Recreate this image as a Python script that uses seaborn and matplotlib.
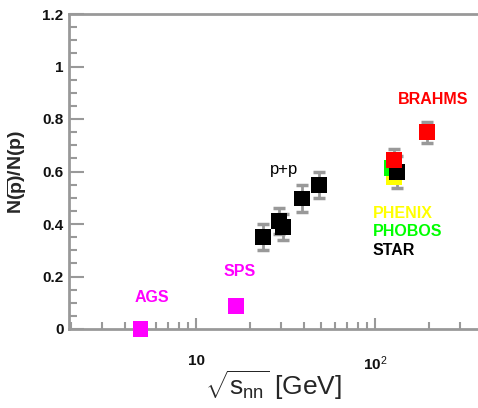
import matplotlib
matplotlib.use("Agg")
import matplotlib.pyplot as plt
import seaborn as sns
import numpy as np
from matplotlib.ticker import FixedLocator, NullFormatter, MultipleLocator

# ---- data ----
ags_x = [4.9]
ags_y = [0.0]
sps_x = [16.8]
sps_y = [0.088]
pp_x = [23.7, 29.1, 30.6, 39.1, 48.7]
pp_y = [0.35, 0.411, 0.389, 0.497, 0.549]
pp_err = [0.05, 0.05, 0.05, 0.05, 0.05]
phenix_x = [128]
phenix_y = [0.58]
phobos_x = [124]
phobos_y = [0.613]
star_x = [133]
star_y = [0.598]
star_err = [0.06]
brahms_x = [128, 195]
brahms_y = [0.645, 0.75]
brahms_err = [0.04, 0.04]

x_major = [10, 100]
x_major_labels = ["10", "10$^{2}$"]
y_major = [0, 0.2, 0.4, 0.6, 0.8, 1, 1.2]
y_major_labels = ["0", "0.2", "0.4", "0.6", "0.8", "1", "1.2"]

sns.set_style("white")
plt.rcParams['font.family'] = ['Liberation Sans', 'DejaVu Sans']
plt.rcParams['mathtext.fontset'] = 'custom'
plt.rcParams['mathtext.rm'] = 'Liberation Sans'
plt.rcParams['mathtext.it'] = 'Liberation Sans'
plt.rcParams['mathtext.bf'] = 'Liberation Sans:bold'

fig = plt.figure(figsize=(4.78, 4.08), dpi=100)
ax = fig.add_axes([69/478, 1-329/408, 1-69/478, (329-14)/408])
ax.set_xscale('log')
ax.set_xlim(1.952, 375.8)
ax.set_ylim(0, 1.2)

grey = '#999999'
ms = 130

def err(x, y, e):
    ax.errorbar(x, y, yerr=e, fmt='none', ecolor=grey, elinewidth=2,
                capsize=4, capthick=2.5, zorder=2, clip_on=False)

err(pp_x, pp_y, pp_err)
err(star_x, star_y, star_err)
err(brahms_x, brahms_y, brahms_err)

def pts(x, y, c, z):
    sns.scatterplot(x=x, y=y, marker='s', s=ms, color=c, edgecolor='none',
                    linewidth=0, ax=ax, zorder=z, clip_on=False, legend=False)

pts(ags_x, ags_y, '#ff00ff', 3)
pts(sps_x, sps_y, '#ff00ff', 3)
pts(pp_x, pp_y, 'black', 3)
pts(phenix_x, phenix_y, '#ffff00', 3)
pts(phobos_x, phobos_y, '#00ff00', 4)
pts(star_x, star_y, 'black', 5)
pts(brahms_x, brahms_y, '#ff0000', 6)

# spines
for s in ['left', 'top', 'bottom']:
    ax.spines[s].set_color(grey)
    ax.spines[s].set_linewidth(2)
ax.spines['right'].set_visible(False)

ax.xaxis.set_major_locator(FixedLocator(x_major))
ax.set_xticklabels(x_major_labels)
minors = [v * d for d in [1, 10, 100] for v in range(2, 10) if 1.95 <= v * d <= 376]
ax.xaxis.set_minor_locator(FixedLocator(minors))
ax.xaxis.set_minor_formatter(NullFormatter())
ax.set_yticks(y_major)
ax.set_yticklabels(y_major_labels)
ax.yaxis.set_minor_locator(MultipleLocator(0.05))

ax.tick_params(axis='both', which='both', direction='in', color=grey, width=1.5,
               top=False, right=False, left=True, bottom=True)
ax.tick_params(axis='y', which='major', length=11, pad=4)
ax.tick_params(axis='y', which='minor', length=6)
ax.tick_params(axis='x', which='major', length=8, pad=18)
ax.tick_params(axis='x', which='minor', length=5)
for lab in ax.get_xticklabels() + ax.get_yticklabels():
    lab.set_fontweight('bold')
    lab.set_fontsize(11)
    lab.set_color('#111111')

# annotations
fig.text(152/478, 1-297/408, "AGS", color='#ff00ff', fontsize=11.5, fontweight='bold', ha='center', va='center')
fig.text(240/478, 1-271/408, "SPS", color='#ff00ff', fontsize=11.5, fontweight='bold', ha='center', va='center')
fig.text(284/478, 1-169/408, "p+p", color='black', fontsize=12, ha='center', va='center')
fig.text(433/478, 1-100/408, "BRAHMS", color='#ff0000', fontsize=11.5, fontweight='bold', ha='center', va='center')
fig.text(373/478, 1-213/408, "PHENIX", color='#ffff00', fontsize=11.5, fontweight='bold', ha='left', va='center')
fig.text(373/478, 1-232/408, "PHOBOS", color='#00ff00', fontsize=11.5, fontweight='bold', ha='left', va='center')
fig.text(373/478, 1-250/408, "STAR", color='black', fontsize=11.5, fontweight='bold', ha='left', va='center')

fig.text(274/478, 1-385/408, r"$\sqrt{s_{nn}}$ [GeV]", fontsize=19, ha='center', va='center')
fig.text(17/478, 1-172/408, r"N($\overline{\mathbf{p}}$)/N(p)", fontsize=14, fontweight='bold',
         rotation=90, ha='center', va='center')

fig.savefig("out.png", dpi=100)
